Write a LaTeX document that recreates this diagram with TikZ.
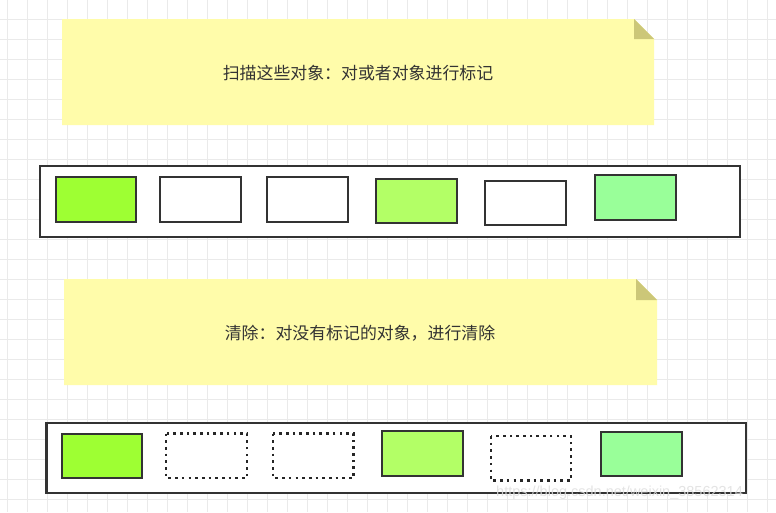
\documentclass[tikz,border=0pt]{standalone}
\usepackage{fontspec}
\newfontfamily\cjk{Noto Sans CJK SC}
\setmainfont{Liberation Sans}
\definecolor{gridc}{RGB}{234,234,234}
\definecolor{notefill}{RGB}{255,252,170}
\definecolor{foldc}{RGB}{204,199,120}
\definecolor{edgec}{RGB}{51,51,51}
\definecolor{txtc}{RGB}{51,51,51}
\definecolor{gA}{RGB}{158,255,51}
\definecolor{gB}{RGB}{179,255,102}
\definecolor{gC}{RGB}{153,255,153}
\tikzset{
  container/.style={draw=edgec, line width=2.5pt, fill=white},
  objbox/.style={draw=edgec, line width=2pt},
  dotbox/.style={draw=black!85, line width=2.6pt, dash pattern=on 2.6pt off 4.1pt, fill=white},
  notetext/.style={text=txtc, font=\cjk\fontsize{16.9}{20}\selectfont, inner sep=0pt},
}
\begin{document}
\begin{tikzpicture}[x=1pt,y=-1pt]
\useasboundingbox (0,0) rectangle (776,512);
\fill[white] (0,0) rectangle (776,512);
% grid
\foreach \gx in {7,27,...,767} \draw[gridc, line width=0.8pt] (\gx,0) -- (\gx,512);
\foreach \gy in {19,39,...,511} \draw[gridc, line width=0.8pt] (0,\gy) -- (776,\gy);

% note 1
\fill[notefill] (62,19) -- (634,19) -- (654,39) -- (654,125) -- (62,125) -- cycle;
\fill[foldc] (634,19) -- (654,39) -- (634,39) -- cycle;
\node[notetext] (t1) at (358,73) {扫描这些对象：对或者对象进行标记};

% row 1
\draw[container] (40,166) rectangle (740,237);
\draw[objbox, fill=gA] (55.5,177) rectangle (136,222);
\draw[objbox, fill=white] (160,177) rectangle (241,222);
\draw[objbox, fill=white] (267,177) rectangle (348,222);
\draw[objbox, fill=gB] (376,178.5) rectangle (457,222.5);
\draw[objbox, fill=white] (485,180.5) rectangle (565.5,224.5);
\draw[objbox, fill=gC] (595,175) rectangle (676,220);

% note 2
\fill[notefill] (64,279) -- (636,279) -- (657,300) -- (657,385) -- (64,385) -- cycle;
\fill[foldc] (636,279) -- (657,300) -- (636,300) -- cycle;
\node[notetext] (t2) at (360,333) {清除：对没有标记的对象，进行清除};

% row 2
\draw[container] (46.5,423) rectangle (746,493);
\draw[objbox, fill=gA] (61.5,433.5) rectangle (142,478);
\draw[dotbox] (166,433.5) rectangle (247,478);
\draw[dotbox] (273,433.5) rectangle (353.5,478);
\draw[objbox, fill=gB] (382,431) rectangle (462.5,475.5);
\draw[dotbox] (491,436) rectangle (571,480.5);
\draw[objbox, fill=gC] (601,431.5) rectangle (682,476);

% watermark
\node[text=white!75!gray, opacity=0.85, font=\fontsize{14.5}{16}\selectfont, anchor=west, inner sep=0pt] (wm) at (496,493) {https://blog.csdn.net/weixin\_38562314};
\end{tikzpicture}
\end{document}
